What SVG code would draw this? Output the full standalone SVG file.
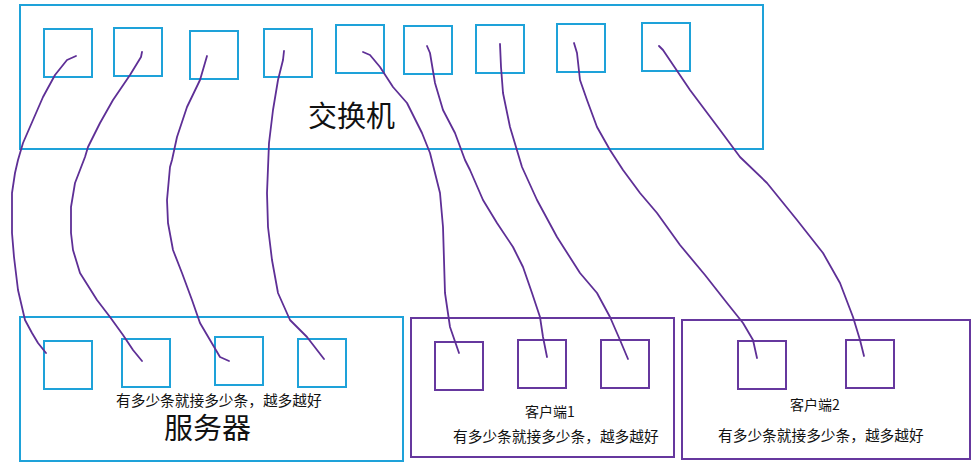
<svg xmlns="http://www.w3.org/2000/svg" width="979" height="467" viewBox="0 0 979 467">
<style>
.bbox{fill:none;stroke:#1ea2d9;stroke-width:2}
.pbox{fill:none;stroke:#66389e;stroke-width:2}
.wire{fill:none;stroke:#5e2f96;stroke-width:1.8;stroke-linejoin:round;stroke-linecap:round}
text{font-family:"Microsoft YaHei","Noto Sans CJK SC","Noto Sans",sans-serif;fill:#111}
.big{font-size:29px}
.small{font-size:14.7px}
.mid{font-size:14px}
</style>
<rect width="979" height="467" fill="#fff"/>
<g id="switch">
<rect class="bbox" x="20" y="5" width="743" height="144"/>
<rect class="bbox" x="44" y="29" width="48" height="48"/>
<rect class="bbox" x="114" y="28" width="48" height="48"/>
<rect class="bbox" x="190" y="31" width="48" height="48"/>
<rect class="bbox" x="264" y="29" width="48" height="48"/>
<rect class="bbox" x="336" y="25" width="48" height="48"/>
<rect class="bbox" x="404" y="26" width="48" height="48"/>
<rect class="bbox" x="476" y="25" width="48" height="48"/>
<rect class="bbox" x="557" y="24" width="48" height="48"/>
<rect class="bbox" x="642" y="23" width="48" height="48"/>
<text class="big" x="308" y="127">交换机</text>
</g>
<g id="server">
<rect class="bbox" x="20" y="317" width="383" height="144"/>
<rect class="bbox" x="44" y="341" width="48" height="48"/>
<rect class="bbox" x="122" y="339" width="48" height="48"/>
<rect class="bbox" x="215" y="337" width="48" height="48"/>
<rect class="bbox" x="298" y="339" width="48" height="48"/>
<text class="small" x="116" y="406">有多少条就接多少条，越多越好</text>
<text class="big" x="164" y="439">服务器</text>
</g>
<g id="client1">
<rect class="pbox" x="411" y="318" width="263" height="139"/>
<rect class="pbox" x="435" y="342" width="48" height="48"/>
<rect class="pbox" x="518" y="340" width="48" height="48"/>
<rect class="pbox" x="601" y="340" width="48" height="48"/>
<text class="mid" x="525" y="417">客户端1</text>
<text class="small" x="453" y="442">有多少条就接多少条，越多越好</text>
</g>
<g id="client2">
<rect class="pbox" x="682" y="320" width="288" height="139"/>
<rect class="pbox" x="738" y="341" width="48" height="48"/>
<rect class="pbox" x="846" y="340" width="48" height="48"/>
<text class="mid" x="790" y="410">客户端2</text>
<text class="small" x="718" y="441">有多少条就接多少条，越多越好</text>
</g>
<g id="connectors">
<path class="wire" d="M76,56 L67,60 L55,75 L43,97 L33,120 L23,143 L18,160 L15,173 L12,193 L12,233 L14,257 L18,290 L25,320 L32,333 L38,343 L46,353"/>
<path class="wire" d="M142,52 L141,57 L130,75 L113,100 L100,123 L88,147 L85,157 L75,183 L71,207 L71,233 L73,250 L80,273 L97,300 L110,317 L123,335 L133,350 L142,361"/>
<path class="wire" d="M207,56 L200,80 L187,107 L177,137 L172,160 L170,167 L167,200 L168,223 L173,250 L182,273 L192,300 L200,323 L210,340 L220,357 L229,361"/>
<path class="wire" d="M284,51 L283,60 L278,80 L273,110 L269,143 L267,193 L268,227 L272,260 L278,293 L290,320 L307,337 L324,359"/>
<path class="wire" d="M363,52 L370,55 L380,67 L393,87 L407,103 L422,133 L430,153 L440,193 L443,227 L445,293 L450,327 L459,353"/>
<path class="wire" d="M427,46 L430,53 L435,83 L443,110 L455,133 L465,160 L470,170 L483,200 L497,223 L513,247 L523,267 L532,293 L540,317 L543,337 L547,357"/>
<path class="wire" d="M500,44 L501,67 L503,93 L510,127 L522,167 L537,200 L557,237 L580,273 L597,293 L610,317 L620,340 L628,359"/>
<path class="wire" d="M574,43 L577,53 L580,80 L587,100 L597,127 L610,150 L623,170 L640,193 L657,213 L680,245 L705,275 L727,303 L743,323 L753,340 L757,358"/>
<path class="wire" d="M659,46 L663,50 L690,90 L720,130 L740,157 L767,183 L797,220 L823,253 L840,283 L853,317 L860,340 L864,356"/>
</g>
</svg>
